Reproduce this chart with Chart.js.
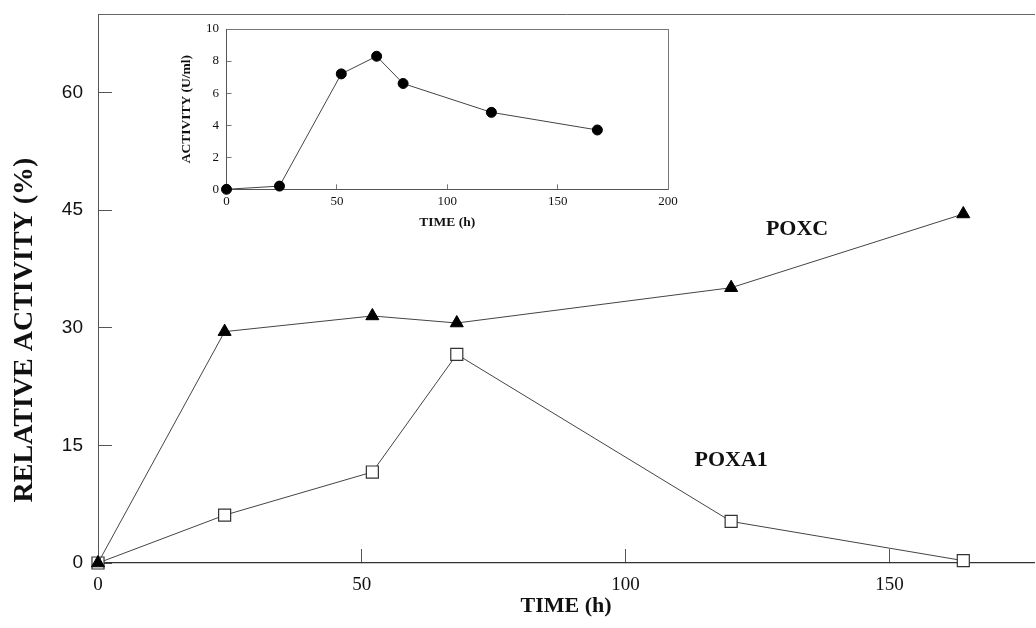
<!DOCTYPE html>
<html>
<head>
<meta charset="utf-8">
<script src="https://cdn.jsdelivr.net/npm/chart.js@4.4.1/dist/chart.umd.min.js"></script>
<style>
  html, body { margin: 0; padding: 0; background: #fff; }
  #wrap { position: relative; width: 1036px; height: 628px; overflow: hidden; }
  #mainChart { position: absolute; left: 0; top: 0; }
  #insetChart { position: absolute; left: 170px; top: 10px; }
</style>
</head>
<body>
<div id="wrap">
  <canvas id="mainChart" width="1036" height="628"></canvas>
  <canvas id="insetChart" width="510" height="230"></canvas>
</div>
<script>
// main plot: relative activity (%) of each isoenzyme against time
var timeHours = [0, 24, 52, 68, 120, 164];
var poxcValues = [0, 29.5, 31.5, 30.6, 35.1, 44.5];
var poxa1Values = [0, 6.1, 11.6, 26.6, 5.3, 0.3];
var mainXTicks = [0, 50, 100, 150];
var mainYTicks = [0, 15, 30, 45, 60];

// inset: total activity (U/ml) against time
var insetTimeHours = [0, 24, 52, 68, 80, 120, 168];
var insetActivity = [0, 0.2, 7.2, 8.3, 6.6, 4.8, 3.7];
var insetXTicks = [0, 50, 100, 150, 200];
var insetYTicks = [0, 2, 4, 6, 8, 10];

var SERIF = "'Liberation Serif', 'Times New Roman', serif";
var SANS = "'Liberation Sans', Arial, sans-serif";

function toPoints(xs, ys) {
    return xs.map(function (x, i) { return { x: x, y: ys[i] }; });
}

function useTicks(values) {
    return function (scale) {
        scale.ticks = values.map(function (v) { return { value: v }; });
    };
}

// fixed scale size, and no extra room for tick labels so the plot box stays put
function fixSize(w, h) {
    return function (s) {
        if (w !== null) s.width = w;
        if (h !== null) s.height = h;
        s.paddingTop = 0;
        s.paddingBottom = 0;
        s.paddingLeft = 0;
        s.paddingRight = 0;
    };
}

// series names written next to the curves, anchored in data units
var curveLabels = [
    { text: 'POXC', x: 132.5, y: 42.6 },
    { text: 'POXA1', x: 120, y: 13.1 }
];

var textPlugin = {
    id: 'figureText',
    afterDraw: function (chart) {
        var ctx = chart.ctx;
        var xs = chart.scales.x, ys = chart.scales.y;
        ctx.save();
        ctx.fillStyle = '#111';
        ctx.textAlign = 'center';
        ctx.textBaseline = 'middle';
        ctx.font = 'bold 22px ' + SERIF;
        curveLabels.forEach(function (l) {
            ctx.fillText(l.text, xs.getPixelForValue(l.x), ys.getPixelForValue(l.y));
        });
        // y axis title, sits a bit below the middle of the axis in the original
        ctx.translate(25, 330);
        ctx.rotate(-Math.PI / 2);
        ctx.font = 'bold 28px ' + SERIF;
        ctx.fillText('RELATIVE ACTIVITY (%)', 0, 0);
        ctx.restore();
    }
};

new Chart(document.getElementById('mainChart'), {
    type: 'scatter',
    data: {
        datasets: [
            {
                label: 'POXC',
                data: toPoints(timeHours, poxcValues),
                showLine: true,
                borderColor: '#444',
                borderWidth: 1,
                pointStyle: 'triangle',
                pointRadius: 7.5,
                pointBackgroundColor: '#000',
                pointBorderColor: '#000',
                pointBorderWidth: 1,
                clip: false
            },
            {
                label: 'POXA1',
                data: toPoints(timeHours, poxa1Values),
                showLine: true,
                borderColor: '#444',
                borderWidth: 1,
                pointStyle: 'rect',
                pointRadius: 8.5,
                pointBackgroundColor: '#fff',
                pointBorderColor: '#333',
                pointBorderWidth: 1.2,
                clip: false
            }
        ]
    },
    options: {
        responsive: false,
        animation: false,
        devicePixelRatio: 1,
        layout: { autoPadding: false, padding: { top: 14, right: 2, left: 0, bottom: 0 } },
        plugins: { legend: { display: false }, tooltip: { enabled: false } },
        scales: {
            x: {
                type: 'linear',
                min: 0,
                max: 177.4,
                afterBuildTicks: useTicks(mainXTicks),
                afterFit: fixSize(null, 65),
                border: { display: true, color: '#333', width: 1.2 },
                grid: { drawOnChartArea: false, tickLength: -14, color: '#555' },
                ticks: { padding: 25, color: '#111', font: { family: SERIF, size: 19 } },
                title: {
                    display: true,
                    text: 'TIME (h)',
                    color: '#111',
                    font: { family: SERIF, size: 22, weight: 'bold' },
                    padding: { top: 0, bottom: 8 }
                }
            },
            xTop: {
                type: 'linear',
                position: 'top',
                min: 0,
                max: 177.4,
                afterFit: fixSize(null, 0),
                border: { display: true, color: '#666', width: 1 },
                grid: { display: false },
                ticks: { display: false }
            },
            y: {
                min: 0,
                max: 70,
                afterBuildTicks: useTicks(mainYTicks),
                afterFit: fixSize(98, null),
                border: { display: true, color: '#555', width: 1 },
                grid: { drawOnChartArea: false, tickLength: -14, color: '#555' },
                ticks: { padding: 29, color: '#111', font: { family: SANS, size: 19 } }
            }
        }
    },
    plugins: [textPlugin]
});

// INSET
new Chart(document.getElementById('insetChart'), {
    type: 'scatter',
    data: {
        datasets: [{
            label: 'Activity',
            data: toPoints(insetTimeHours, insetActivity),
            showLine: true,
            borderColor: '#444',
            borderWidth: 1,
            pointStyle: 'circle',
            pointRadius: 5,
            pointBackgroundColor: '#000',
            pointBorderColor: '#000',
            clip: false
        }]
    },
    options: {
        responsive: false,
        animation: false,
        devicePixelRatio: 1,
        layout: { autoPadding: false, padding: { top: 19, right: 12, left: 0, bottom: 0 } },
        plugins: { legend: { display: false }, tooltip: { enabled: false } },
        scales: {
            x: {
                type: 'linear',
                min: 0,
                max: 200,
                afterBuildTicks: useTicks(insetXTicks),
                afterFit: fixSize(null, 50.7),
                border: { display: true, color: '#555', width: 1 },
                grid: { drawOnChartArea: false, tickLength: -5, color: '#777' },
                ticks: { padding: 9, color: '#111', font: { family: SERIF, size: 13 } },
                title: {
                    display: true,
                    text: 'TIME (h)',
                    color: '#111',
                    font: { family: SERIF, size: 13.5, weight: 'bold' },
                    padding: { top: 0, bottom: 9.5 }
                }
            },
            xTop: {
                type: 'linear',
                position: 'top',
                min: 0,
                max: 200,
                afterFit: fixSize(null, 0),
                border: { display: true, color: '#777', width: 1 },
                grid: { display: false },
                ticks: { display: false }
            },
            y: {
                min: 0,
                max: 10,
                afterBuildTicks: useTicks(insetYTicks),
                afterFit: fixSize(56.5, null),
                border: { display: true, color: '#555', width: 1 },
                grid: { drawOnChartArea: false, tickLength: -5, color: '#777' },
                ticks: { padding: 12.5, color: '#111', font: { family: SERIF, size: 13 } },
                title: {
                    display: true,
                    text: 'ACTIVITY (U/ml)',
                    color: '#111',
                    font: { family: SERIF, size: 13.5, weight: 'bold' },
                    padding: { top: 8, bottom: 0 }
                }
            },
            yRight: {
                position: 'right',
                min: 0,
                max: 10,
                afterFit: fixSize(0, null),
                border: { display: true, color: '#777', width: 1 },
                grid: { display: false },
                ticks: { display: false }
            }
        }
    }
});
</script>
</body>
</html>
